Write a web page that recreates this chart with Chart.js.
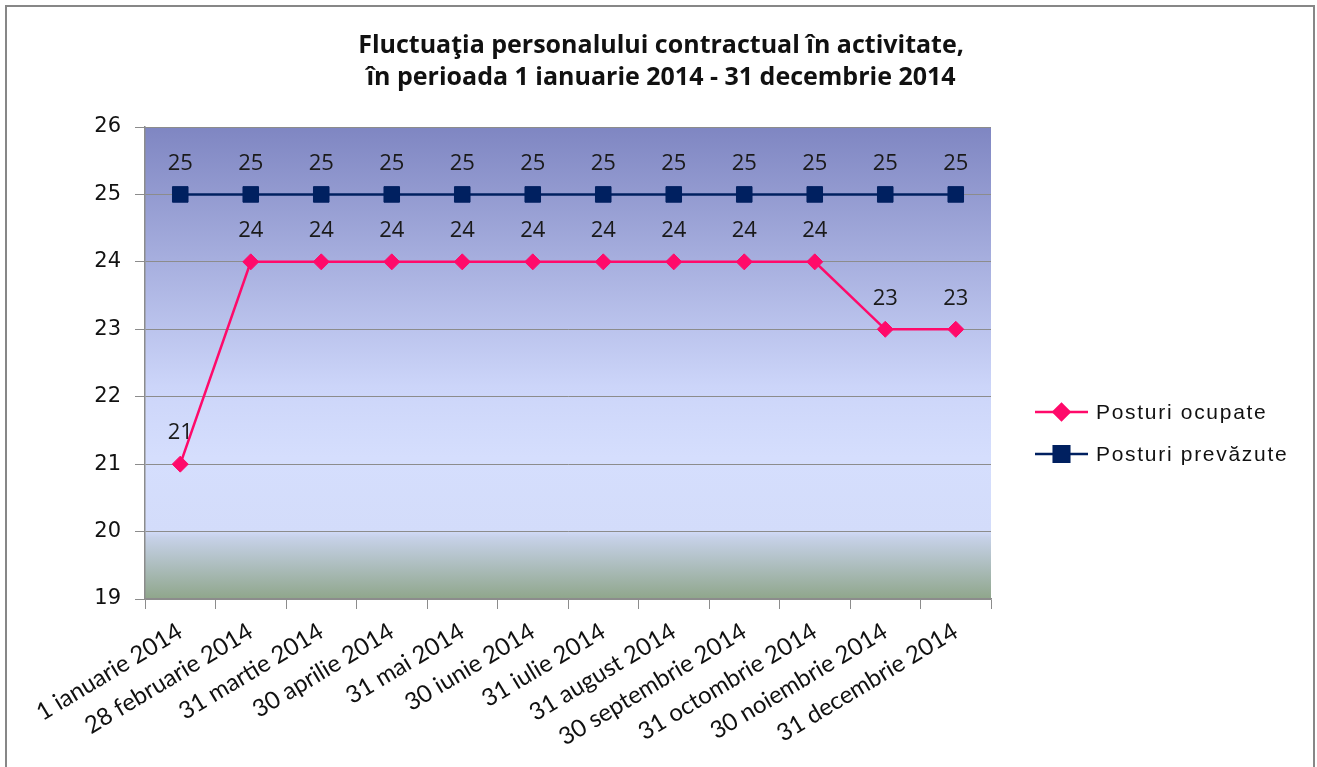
<!DOCTYPE html>
<html lang="en">
<head>
<meta charset="utf-8">
<title>Fluctuaţia personalului contractual</title>
<script src="https://cdn.jsdelivr.net/npm/chart.js@4"></script>
<style>
    html, body { margin: 0; padding: 0; background: #fff; overflow: hidden; }
    #wrap { position: relative; width: 1317px; height: 767px; }
    #frame {
        position: absolute; left: 5px; top: 5px; width: 1310px; height: 790px;
        border: 2px solid #878787; box-sizing: border-box; pointer-events: none;
    }
</style>
</head>
<body>
<div id="wrap">
    <canvas id="chart" width="1317" height="767"></canvas>
    <div id="frame"></div>
</div>
<script>
/* Fluctuaţia personalului contractual — line chart */

const categories = [
    '1 ianuarie 2014', '28 februarie 2014', '31 martie 2014', '30 aprilie 2014',
    '31 mai 2014', '30 iunie 2014', '31 iulie 2014', '31 august 2014',
    '30 septembrie 2014', '31 octombrie 2014', '30 noiembrie 2014', '31 decembrie 2014'
];
const posturiOcupate = [21, 24, 24, 24, 24, 24, 24, 24, 24, 24, 23, 23];
const posturiPrevazute = [25, 25, 25, 25, 25, 25, 25, 25, 25, 25, 25, 25];
const seriesNames = ['Posturi ocupate', 'Posturi prevăzute'];
const yMin = 19;
const yMax = 26;
const titleLines = [
    'Fluctuaţia personalului contractual în activitate,',
    'în perioada 1 ianuarie 2014 - 31 decembrie 2014'
];

const PINK = '#ff0a6a';
const NAVY = '#002060';
const GRID = '#8c8c8c';

// gradient fill behind the plot area
const plotBackground = {
    id: 'plotBackground',
    beforeDraw: function (chart) {
        const a = chart.chartArea;
        const ctx = chart.ctx;
        const g = ctx.createLinearGradient(0, a.top, 0, a.bottom);
        g.addColorStop(0, '#7f86c2');
        g.addColorStop(0.55, '#ccd5f9');
        g.addColorStop(0.7, '#d5defd');
        g.addColorStop(0.855, '#d3dcfa');
        g.addColorStop(0.87, '#c6d1e8');
        g.addColorStop(1, '#8fa68b');
        ctx.save();
        ctx.fillStyle = g;
        ctx.fillRect(a.left, a.top, a.right - a.left, a.bottom - a.top);
        ctx.restore();
    }
};

// two-line title, centred on the whole picture (not only on the plot)
const pageTitle = {
    id: 'pageTitle',
    afterDraw: function (chart) {
        const ctx = chart.ctx;
        ctx.save();
        ctx.font = 'bold 25px "Open Sans", sans-serif';
        ctx.fillStyle = '#111';
        ctx.textAlign = 'center';
        ctx.textBaseline = 'middle';
        titleLines.forEach(function (line, i) {
            ctx.fillText(line, 661, 46 + i * 32);
        });
        ctx.restore();
    }
};

// value labels above every point
const valueLabels = {
    id: 'valueLabels',
    afterDatasetsDraw: function (chart) {
        const ctx = chart.ctx;
        ctx.save();
        ctx.font = '22px "Open Sans", sans-serif';
        ctx.fillStyle = '#1a1a1a';
        ctx.textAlign = 'center';
        ctx.textBaseline = 'middle';
        chart.data.datasets.forEach(function (ds, i) {
            chart.getDatasetMeta(i).data.forEach(function (pt, j) {
                ctx.fillText(String(ds.data[j]), pt.x, pt.y - 31);
            });
        });
        ctx.restore();
    }
};

// legend on the right, drawn by hand so it sits where Excel put it
const sideLegend = {
    id: 'sideLegend',
    afterDraw: function (chart) {
        const ctx = chart.ctx;
        const x0 = 1035, x1 = 1088, ys = [412, 454];
        ctx.save();
        chart.data.datasets.forEach(function (ds, i) {
            const y = ys[i];
            ctx.strokeStyle = ds.borderColor;
            ctx.lineWidth = ds.borderWidth;
            ctx.beginPath();
            ctx.moveTo(x0, y);
            ctx.lineTo(x1, y);
            ctx.stroke();
            Chart.helpers.drawPoint(ctx, {
                pointStyle: ds.pointStyle,
                radius: ds.pointRadius,
                borderWidth: 1
            }, (x0 + x1) / 2, y);
            ctx.fillStyle = ds.pointBackgroundColor;
            ctx.fill();
            ctx.fillStyle = '#111';
            ctx.font = '21px "Liberation Sans", Arial, sans-serif';
            ctx.letterSpacing = '1.7px';
            ctx.textAlign = 'left';
            ctx.textBaseline = 'middle';
            ctx.fillText(ds.label, 1096, y + 1);
            ctx.letterSpacing = '0px';
        });
        ctx.restore();
    }
};

new Chart(document.getElementById('chart'), {
    type: 'line',
    data: {
        labels: categories,
        datasets: [{
            label: seriesNames[0],
            data: posturiOcupate,
            borderColor: PINK,
            backgroundColor: PINK,
            pointBackgroundColor: PINK,
            pointBorderColor: PINK,
            borderWidth: 2.5,
            pointStyle: 'rectRot',
            pointRadius: 8,
            pointBorderWidth: 1,
            tension: 0
        }, {
            label: seriesNames[1],
            data: posturiPrevazute,
            borderColor: NAVY,
            backgroundColor: NAVY,
            pointBackgroundColor: NAVY,
            pointBorderColor: NAVY,
            borderWidth: 2.5,
            pointStyle: 'rect',
            pointRadius: 11,
            pointBorderWidth: 1,
            tension: 0
        }]
    },
    options: {
        responsive: false,
        animation: false,
        layout: { padding: { left: 0, right: 326, top: 127, bottom: 0 } },
        plugins: {
            legend: { display: false },
            tooltip: { enabled: false },
            title: { display: false }
        },
        scales: {
            x: {
                offset: true,
                grid: {
                    offset: true,
                    drawOnChartArea: false,
                    drawTicks: true,
                    tickLength: 10,
                    tickColor: GRID,
                    color: GRID
                },
                border: { color: GRID, width: 1.5 },
                ticks: {
                    color: '#111',
                    font: { family: 'Lato, "Open Sans", sans-serif', size: 24 },
                    minRotation: 31,
                    maxRotation: 31,
                    autoSkip: false,
                    padding: 8
                },
                afterFit: function (s) { s.height = 168; }
            },
            y: {
                min: yMin,
                max: yMax,
                ticks: {
                    stepSize: 1,
                    color: '#111',
                    font: { family: '"DejaVu Sans", sans-serif', size: 21 },
                    padding: 14
                },
                grid: {
                    color: GRID,
                    lineWidth: 1,
                    tickLength: 10,
                    tickColor: GRID
                },
                border: { color: GRID, width: 1.5 },
                afterFit: function (s) { s.width = 145; }
            }
        }
    },
    plugins: [plotBackground, pageTitle, valueLabels, sideLegend]
});
</script>
</body>
</html>
